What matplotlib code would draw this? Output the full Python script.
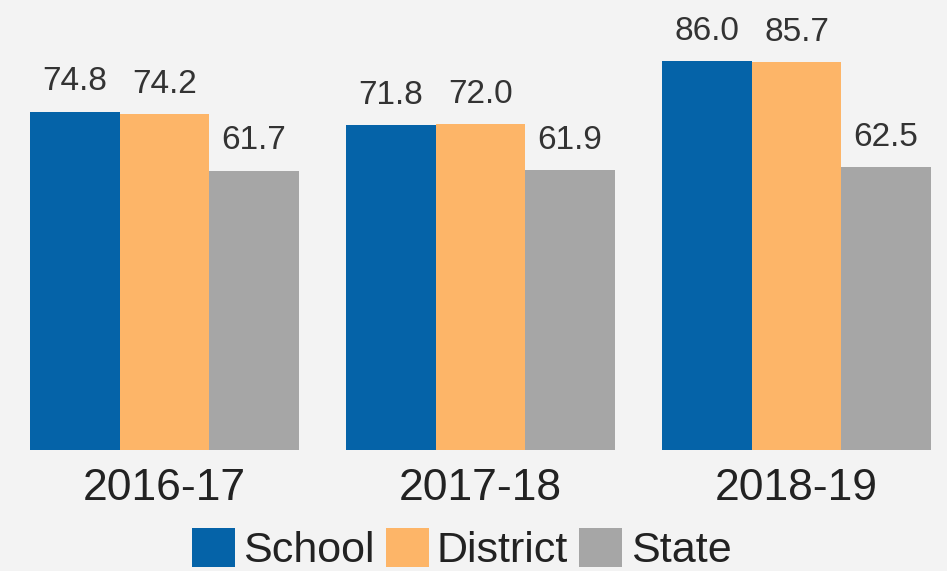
import matplotlib
matplotlib.use("Agg")
import matplotlib.pyplot as plt
import numpy as np

categories = ["2016-17", "2017-18", "2018-19"]
series_names = ["School", "District", "State"]
school = [74.8, 71.8, 86.0]
district = [74.2, 72.0, 85.7]
state = [61.7, 61.9, 62.5]
colors = ["#0563A8", "#FDB568", "#A6A6A6"]
bg = "#F3F3F3"

plt.rcParams['font.family'] = ['Liberation Sans', 'DejaVu Sans']

fig = plt.figure(figsize=(9.47, 5.71), dpi=100, facecolor=bg)
ax = fig.add_axes([0, 121/571, 1, 450/571])
ax.set_facecolor(bg)

x = np.arange(len(categories))
w = 0.283
for i, (name, vals, c) in enumerate(zip(series_names, [school, district, state], colors)):
    bars = ax.bar(x + (i - 1) * w, vals, width=w, color=c, label=name, linewidth=0)
    for b, v in zip(bars, vals):
        ax.annotate(f"{v:.1f}", (b.get_x() + b.get_width() / 2, v),
                    xytext=(0, 15.5), textcoords="offset points",
                    ha="center", va="baseline", fontsize=24, color="#333333")

ax.set_xlim(-0.5206, 2.4763)
ax.set_ylim(0, 99.5)
ax.set_xticks(x, categories)
ax.tick_params(axis='x', length=0, pad=13, labelsize=32, labelcolor="#222222")
ax.set_yticks([])
for s in ax.spines.values():
    s.set_visible(False)

fig.legend(loc="lower center", bbox_to_anchor=(461.5/947, 0), ncol=3, frameon=False,
           fontsize=31, handlelength=1.0, handleheight=1.0, handletextpad=0.19,
           columnspacing=0.26, borderpad=0, borderaxespad=0, labelcolor="#222222")

fig.savefig("out.png", dpi=100, facecolor=bg)
